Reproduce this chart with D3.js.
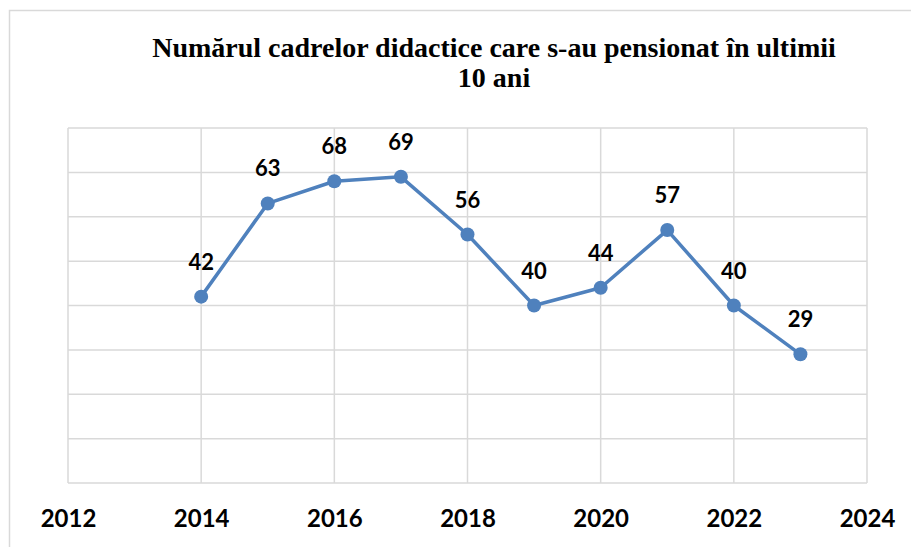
<!DOCTYPE html>
<html>
<head>
<meta charset="utf-8">
<script src="https://cdn.jsdelivr.net/npm/d3@7"></script>
<style>
  body { margin: 0; background: #fff; }
  svg { display: block; }
  .title { font-family: "Liberation Serif", "Times New Roman", serif; font-weight: bold; }
</style>
</head>
<body>
<div id="chart"></div>
<script>
var width = 911;
var height = 547;

// data
var years = [2014, 2015, 2016, 2017, 2018, 2019, 2020, 2021, 2022, 2023];
var values = [42, 63, 68, 69, 56, 40, 44, 57, 40, 29];
var xTicks = [2012, 2014, 2016, 2018, 2020, 2022, 2024];
var yTicks = [0, 10, 20, 30, 40, 50, 60, 70, 80];
var titleLines = ["Numărul cadrelor didactice care s-au pensionat în ultimii", "10 ani"];

var plot = {left: 68, right: 867, top: 128, bottom: 483};

var svg = d3.select("#chart")
  .append("svg")
  .attr("width", width)
  .attr("height", height);

// outer chart border
svg.append("rect")
  .attr("x", 9.5)
  .attr("y", 10.5)
  .attr("width", width + 20)
  .attr("height", height + 20)
  .attr("fill", "none")
  .attr("stroke", "#d9d9d9")
  .attr("stroke-width", 1.5);

var x = d3.scaleLinear().domain([2012, 2024]).range([plot.left, plot.right]);
var y = d3.scaleLinear().domain([0, 80]).range([plot.bottom, plot.top]);

// grid
svg.append("g").selectAll("line.h")
  .data(yTicks)
  .enter()
  .append("line")
  .attr("x1", plot.left)
  .attr("x2", plot.right)
  .attr("y1", function(d){ return y(d); })
  .attr("y2", function(d){ return y(d); })
  .attr("stroke", "#d9d9d9")
  .attr("stroke-width", 1.5);

svg.append("g").selectAll("line.v")
  .data(xTicks)
  .enter()
  .append("line")
  .attr("x1", function(d){ return x(d); })
  .attr("x2", function(d){ return x(d); })
  .attr("y1", plot.top)
  .attr("y2", plot.bottom)
  .attr("stroke", "#d9d9d9")
  .attr("stroke-width", 1.5);

// x axis labels
var xAxis = d3.axisBottom(x)
  .tickValues(xTicks)
  .tickFormat(d3.format("d"))
  .tickSize(0)
  .tickPadding(27);

var gx = svg.append("g")
  .attr("transform", "translate(0," + plot.bottom + ")")
  .call(xAxis);
gx.select(".domain").remove();
gx.selectAll("text")
  .attr("font-family", "Lato, 'Open Sans', sans-serif")
  .attr("font-weight", "bold")
  .attr("font-size", 24)
  .attr("fill", "#000");

// title
svg.append("text")
  .attr("class", "title")
  .attr("x", 494)
  .attr("y", 57)
  .attr("text-anchor", "middle")
  .style("font-size", "28px")
  .attr("fill", "#000")
  .selectAll("tspan")
  .data(titleLines)
  .enter()
  .append("tspan")
  .attr("x", 494)
  .attr("dy", function(d, i){ return i == 0 ? 0 : 30; })
  .text(function(d){ return d; });

var pts = years.map(function(d, i){ return {year: d, value: values[i]}; });

var line = d3.line()
  .x(function(d){ return x(d.year); })
  .y(function(d){ return y(d.value); });

svg.append("path")
  .datum(pts)
  .attr("d", line)
  .attr("fill", "none")
  .attr("stroke", "#4f81bd")
  .attr("stroke-width", 3.5)
  .attr("stroke-linejoin", "round");

svg.append("g").selectAll("circle")
  .data(pts)
  .enter()
  .append("circle")
  .attr("cx", function(d){ return x(d.year); })
  .attr("cy", function(d){ return y(d.value); })
  .attr("r", 7)
  .attr("fill", "#4f81bd");

svg.append("g").selectAll("text")
  .data(pts)
  .enter()
  .append("text")
  .attr("x", function(d){ return x(d.year); })
  .attr("y", function(d){ return y(d.value) - 27; })
  .attr("text-anchor", "middle")
  .attr("font-family", "Lato, 'Open Sans', sans-serif")
  .attr("font-weight", "bold")
  .attr("font-size", 22)
  .attr("fill", "#000")
  .text(function(d){ return d.value; });
</script>
</body>
</html>
